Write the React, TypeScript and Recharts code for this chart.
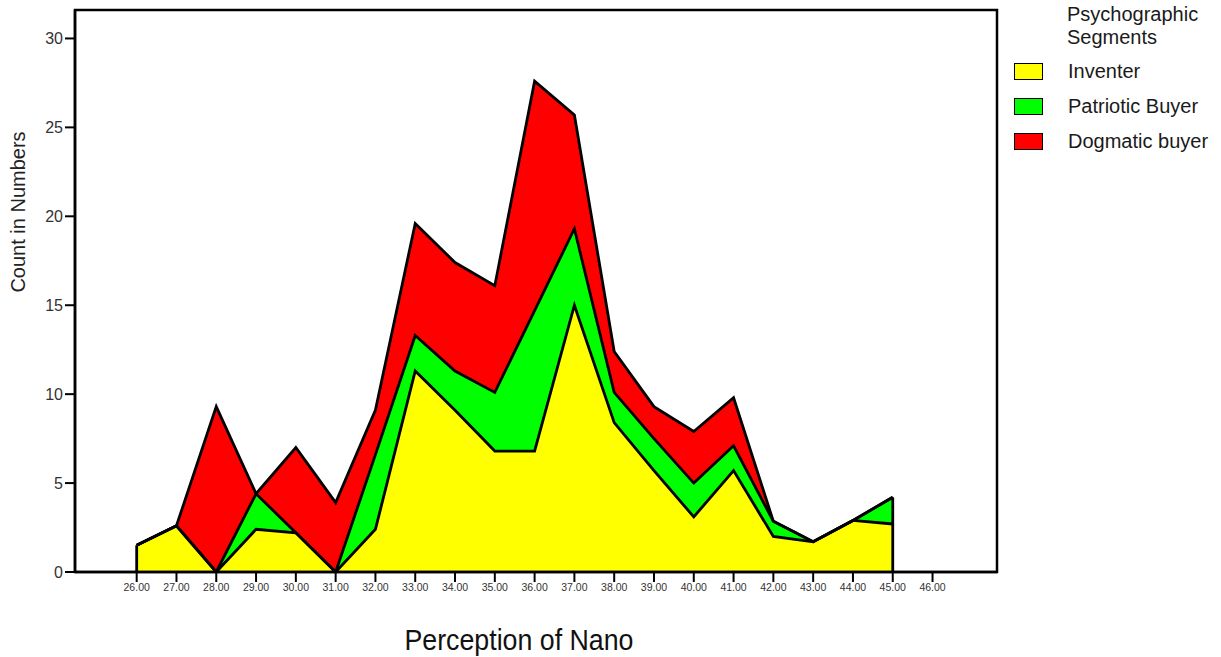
import { AreaChart, Area, XAxis, YAxis, ReferenceLine, ReferenceArea } from 'recharts';

// Perception of Nano score (x) and counts per segment
const scores = [26, 27, 28, 29, 30, 31, 32, 33, 34, 35, 36, 37, 38, 39, 40, 41, 42, 43, 44, 45];
const inventer = [1.5, 2.6, 0, 2.4, 2.2, 0, 2.4, 11.3, 9.1, 6.8, 6.8, 15.0, 8.4, 5.7, 3.1, 5.7, 2.0, 1.7, 2.9, 2.7];
const patriotic = [0, 0, 0, 2.0, 0, 0, 4.2, 2.0, 2.2, 3.3, 7.9, 4.3, 1.7, 1.8, 1.9, 1.4, 0.85, 0, 0, 1.5];
const dogmatic = [0, 0, 9.3, 0, 4.8, 3.9, 2.5, 6.3, 6.1, 6.0, 12.9, 6.4, 2.3, 1.8, 2.9, 2.7, 0, 0, 0, 0];

const xTicks = [26, 27, 28, 29, 30, 31, 32, 33, 34, 35, 36, 37, 38, 39, 40, 41, 42, 43, 44, 45, 46];
const yTicks = [0, 5, 10, 15, 20, 25, 30];

const SERIES = [
  { key: 'Inventer', values: inventer, color: '#FFFF00' },
  { key: 'Patriotic Buyer', values: patriotic, color: '#00FF00' },
  { key: 'Dogmatic buyer', values: dogmatic, color: '#FF0000' },
];

const X_DOMAIN: [number, number] = [24.45, 47.62];
const Y_DOMAIN: [number, number] = [0, 31.6];

const data = scores.map((x, i) => {
  const row: any = { x };
  SERIES.forEach((s) => {
    row[s.key] = s.values[i];
  });
  return row;
});

const firstX = scores[0];
const lastX = scores[scores.length - 1];
const totalAt = (i: number) => SERIES.reduce((sum, s) => sum + s.values[i], 0);

const FONT = '"Liberation Sans", Arial, sans-serif';

export default function App() {
  return (
    <div style={{ position: 'absolute', left: 0, top: 0, width: 1221, height: 657, background: '#fff', fontFamily: FONT }}>
      <AreaChart
        width={1221}
        height={657}
        data={data}
        margin={{ top: 10, right: 224, bottom: 25, left: 0 }}
      >
        <XAxis
          dataKey="x"
          type="number"
          domain={X_DOMAIN}
          ticks={xTicks}
          interval={0}
          allowDataOverflow
          tickFormatter={(v: number) => v.toFixed(2)}
          height={60}
          axisLine={{ stroke: '#000', strokeWidth: 2.5 }}
          tickLine={{ stroke: '#000', strokeWidth: 2 }}
          tickSize={10}
          tick={{ fill: '#333', fontSize: 10.5, fontFamily: FONT }}
          label={() => (
            <text x={519} y={650} textAnchor="middle" textLength={229} lengthAdjust="spacingAndGlyphs" fill="#111" fontSize={30} fontFamily={FONT}>
              Perception of Nano
            </text>
          )}
        />
        <YAxis
          type="number"
          domain={Y_DOMAIN}
          ticks={yTicks}
          allowDataOverflow
          width={75}
          axisLine={{ stroke: '#000', strokeWidth: 2.5 }}
          tickLine={{ stroke: '#000', strokeWidth: 2 }}
          tickSize={10}
          tick={{ fill: '#333', fontSize: 16, fontFamily: FONT }}
          label={() => (
            <text x={18} y={212} transform="rotate(-90 18 212)" textAnchor="middle" dominantBaseline="central" fill="#222" fontSize={20} fontFamily={FONT}>
              Count in Numbers
            </text>
          )}
        />
        {/* fills */}
        {SERIES.map((s) => (
          <Area
            key={s.key}
            type="linear"
            dataKey={s.key}
            stackId="fill"
            fill={s.color}
            fillOpacity={1}
            stroke="none"
            dot={false}
            activeDot={false}
            isAnimationActive={false}
          />
        ))}
        {/* outlines drawn over all fills so every boundary keeps its full width */}
        {SERIES.map((s) => (
          <Area
            key={s.key + '-line'}
            type="linear"
            dataKey={s.key}
            stackId="line"
            fill="none"
            stroke="#000"
            strokeWidth={2.8}
            strokeLinejoin="miter"
            dot={false}
            activeDot={false}
            isAnimationActive={false}
          />
        ))}
        <ReferenceLine segment={[{ x: firstX, y: 0 }, { x: firstX, y: totalAt(0) }]} stroke="#000" strokeWidth={2.8} />
        <ReferenceLine segment={[{ x: lastX, y: 0 }, { x: lastX, y: totalAt(scores.length - 1) }]} stroke="#000" strokeWidth={2.8} />
        <ReferenceArea x1={X_DOMAIN[0]} x2={X_DOMAIN[1]} y1={Y_DOMAIN[0]} y2={Y_DOMAIN[1]} fill="none" fillOpacity={0} stroke="#000" strokeWidth={2.5} ifOverflow="visible" />
      </AreaChart>

      <div style={{ position: 'absolute', left: 1014, top: 3, width: 207, color: '#1a1a1a', fontSize: 20 }}>
        <div style={{ marginLeft: 53, lineHeight: '23px' }}>
          Psychographic
          <br />
          Segments
        </div>
        <div style={{ marginTop: 5 }}>
          {SERIES.map((s) => (
            <div key={s.key} style={{ display: 'flex', alignItems: 'center', height: 35 }}>
              <span style={{ display: 'inline-block', width: 27, height: 15, background: s.color, border: '1.5px solid #000', marginRight: 25 }} />
              <span>{s.key}</span>
            </div>
          ))}
        </div>
      </div>
    </div>
  );
}
